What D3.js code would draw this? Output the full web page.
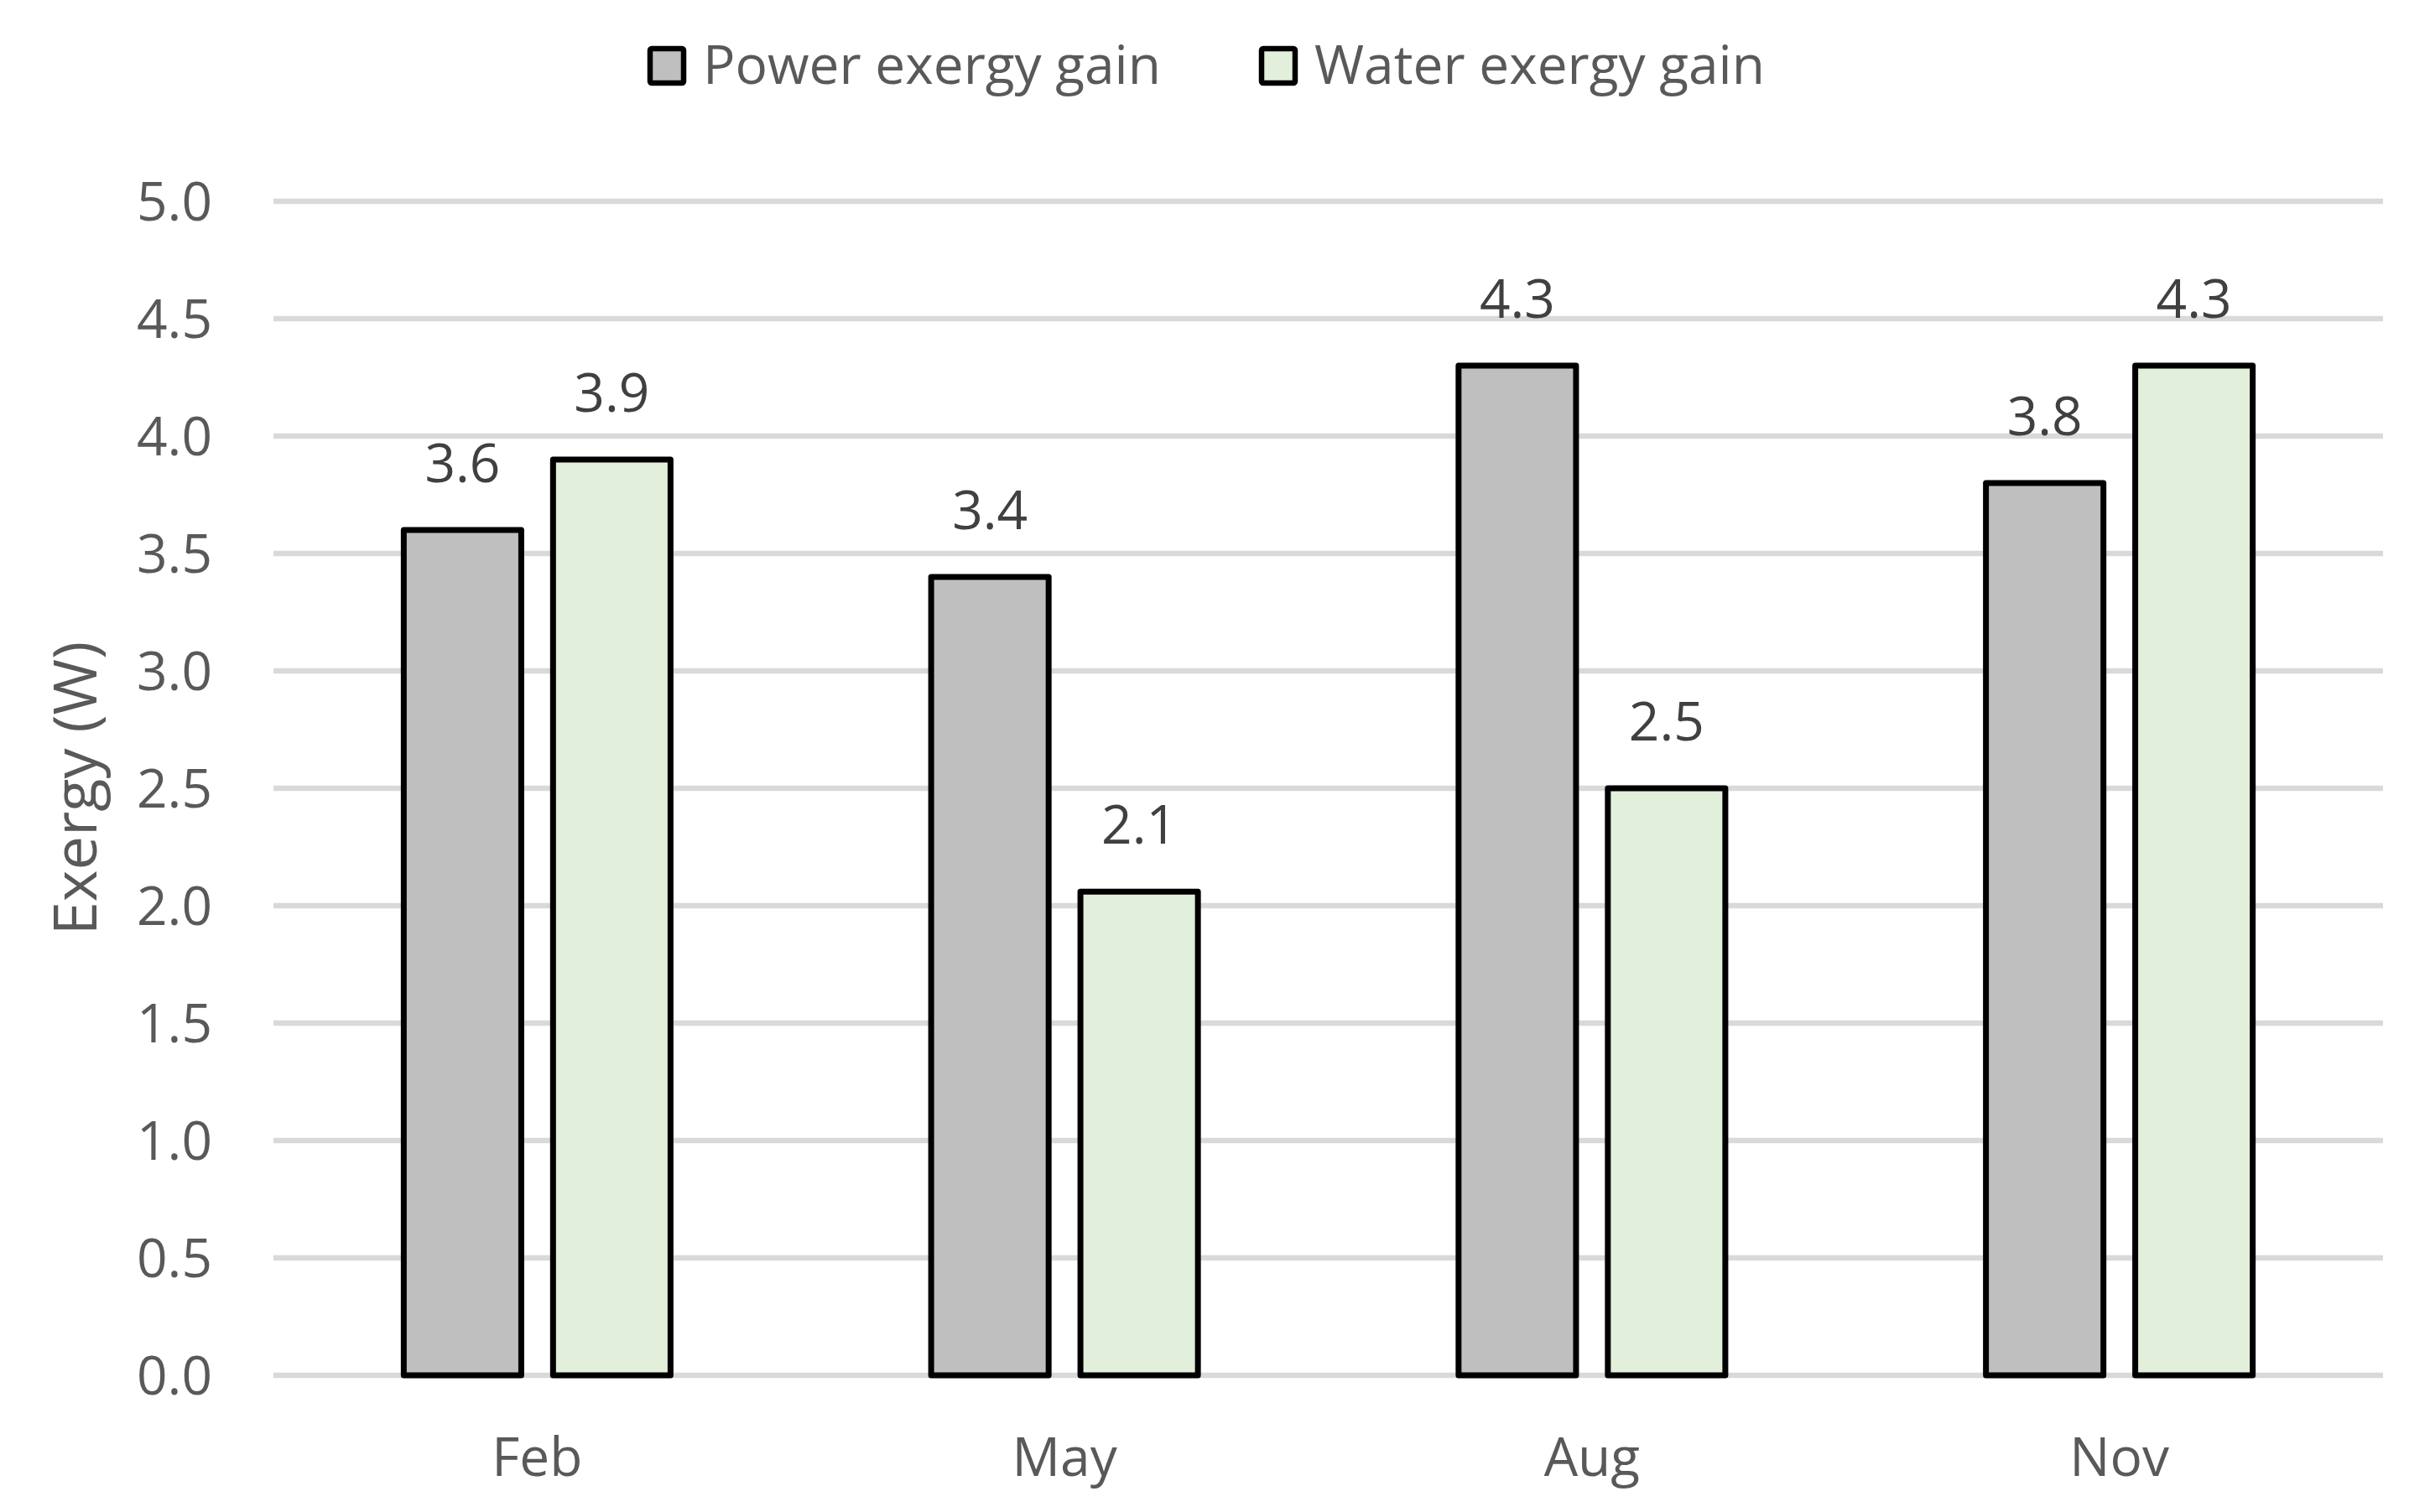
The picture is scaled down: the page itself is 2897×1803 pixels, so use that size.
<!DOCTYPE html>
<html>
<head>
<meta charset="utf-8">
<script src="https://cdn.jsdelivr.net/npm/d3@7"></script>
<style>
  html, body { margin: 0; padding: 0; background: #fff; }
  text { font-family: "Open Sans", "Noto Sans", sans-serif; }
</style>
</head>
<body>
<div id="chart"></div>
<script>
// data
const months = ["Feb", "May", "Aug", "Nov"];
const seriesNames = ["Power exergy gain", "Water exergy gain"];
const powerGain = [3.6, 3.4, 4.3, 3.8];
const waterGain = [3.9, 2.06, 2.5, 4.3];
const yTicks = [0, 0.5, 1, 1.5, 2, 2.5, 3, 3.5, 4, 4.5, 5];
const seriesColors = ["#bfbfbf", "#e2efda"];

const W = 2897, H = 1803;
const margin = { top: 240, right: 56, bottom: 163, left: 326 };
const width = W - margin.left - margin.right;
const height = H - margin.top - margin.bottom;

const svg = d3.select("#chart").append("svg")
    .attr("width", W)
    .attr("height", H);

const g = svg.append("g")
    .attr("transform", "translate(" + margin.left + "," + margin.top + ")");

const x0 = d3.scaleBand().domain(months).range([0, width]).padding(0);
const x1 = d3.scaleBand().domain(seriesNames).range([0, x0.bandwidth()])
    .paddingInner(0.213).paddingOuter(0.873);
const y = d3.scaleLinear().domain([0, 5]).range([height, 0]);

// gridlines
g.append("g").attr("class", "grid")
    .selectAll("line")
    .data(yTicks)
    .join("line")
    .attr("x1", 0).attr("x2", width)
    .attr("y1", d => y(d)).attr("y2", d => y(d))
    .attr("stroke", "#d9d9d9")
    .attr("stroke-width", 6.5);

// y axis labels
const yAxis = g.append("g")
    .call(d3.axisLeft(y).tickValues(yTicks).tickFormat(d3.format(".1f")).tickSize(0).tickPadding(73));
yAxis.select(".domain").remove();
yAxis.selectAll("text")
    .attr("fill", "#595959")
    .style("font-size", "64px")
    .attr("dy", "0.35em");

// x axis labels
const xAxis = g.append("g")
    .attr("transform", "translate(0," + height + ")")
    .call(d3.axisBottom(x0).tickSize(0).tickPadding(120));
xAxis.select(".domain").remove();
xAxis.selectAll("text")
    .attr("fill", "#595959")
    .style("font-size", "64px")
    .attr("dy", "0");

// axis title
svg.append("text")
    .attr("transform", "translate(115," + (margin.top + height / 2) + ") rotate(-90)")
    .attr("text-anchor", "middle")
    .attr("fill", "#595959")
    .style("font-size", "72px")
    .text("Exergy (W)");

// bars
const rows = months.map((m, i) => ({
    month: m,
    values: [
        { key: seriesNames[0], value: powerGain[i], color: seriesColors[0] },
        { key: seriesNames[1], value: waterGain[i], color: seriesColors[1] }
    ]
}));

const groups = g.append("g").selectAll(".monthG")
    .data(rows)
    .join("g")
    .attr("class", "monthG")
    .attr("transform", d => "translate(" + x0(d.month) + ",0)");

groups.selectAll("rect")
    .data(d => d.values)
    .join("rect")
    .attr("x", d => x1(d.key))
    .attr("width", x1.bandwidth())
    .attr("y", d => y(d.value))
    .attr("height", d => height - y(d.value))
    .attr("fill", d => d.color)
    .attr("stroke", "#000")
    .attr("stroke-width", 7)
    .attr("stroke-linejoin", "round");

// value labels
groups.selectAll(".val")
    .data(d => d.values)
    .join("text")
    .attr("class", "val")
    .attr("x", d => x1(d.key) + x1.bandwidth() / 2)
    .attr("y", d => y(d.value) - 57)
    .attr("text-anchor", "middle")
    .attr("fill", "#404040")
    .style("font-size", "64px")
    .text(d => d3.format(".1f")(d.value));

// legend
const legendX = [772, 1501];
const legend = svg.append("g").selectAll(".legendItem")
    .data(seriesNames)
    .join("g")
    .attr("class", "legendItem")
    .attr("transform", (d, i) => "translate(" + legendX[i] + ",0)");

legend.append("rect")
    .attr("x", 3).attr("y", 58)
    .attr("width", 40).attr("height", 41)
    .attr("rx", 2)
    .attr("fill", (d, i) => seriesColors[i])
    .attr("stroke", "#000")
    .attr("stroke-width", 6.5);

legend.append("text")
    .attr("x", 66)
    .attr("y", 100)
    .attr("fill", "#595959")
    .style("font-size", "64px")
    .text(d => d);
</script>
</body>
</html>
